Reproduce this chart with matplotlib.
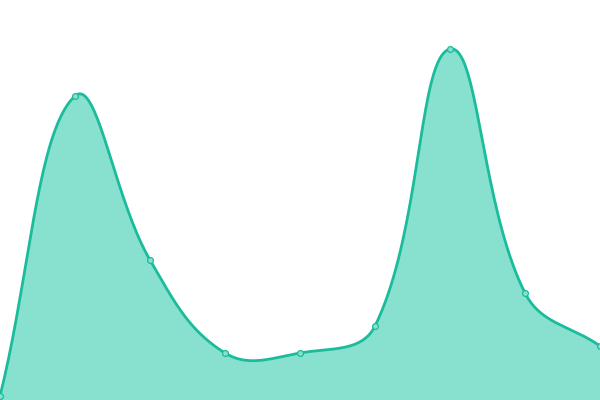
import matplotlib
matplotlib.use("Agg")
import matplotlib.pyplot as plt
import numpy as np

# Data
x_vals = [0, 75, 150, 225, 300, 375, 450, 525, 600]
y_vals = [4, 304, 140, 47, 47, 74, 351, 107, 54]

line_clr = "#1abc9c"
fill_clr = "#88e0cf"


def smooth_curve(xs, ys, smooth=0.4, n=40):
    # bezier smoothing, control points from neighbours
    pts = np.column_stack([xs, ys]).astype(float)
    cps = []
    for i, p in enumerate(pts):
        prev = pts[i - 1] if i > 0 else p
        nxt = pts[i + 1] if i < len(pts) - 1 else p
        v = nxt - prev
        d0 = np.hypot(*(p - prev))
        d1 = np.hypot(*(nxt - p))
        s = d0 + d1
        if s == 0:
            cps.append((p, p))
            continue
        cps.append((p - v * smooth * d0 / s, p + v * smooth * d1 / s))
    out = [pts[0]]
    t = np.linspace(0, 1, n)[1:, None]
    for i in range(len(pts) - 1):
        p0, p3 = pts[i], pts[i + 1]
        p1, p2 = cps[i][1], cps[i + 1][0]
        seg = ((1 - t) ** 3) * p0 + 3 * ((1 - t) ** 2) * t * p1 + 3 * (1 - t) * t ** 2 * p2 + t ** 3 * p3
        out.extend(seg)
    out = np.array(out)
    return out[:, 0], out[:, 1]


fig = plt.figure(figsize=(6, 4), dpi=100)
ax = fig.add_axes([0, 0, 1, 1])
cx, cy = smooth_curve(x_vals, y_vals)
ax.fill_between(cx, cy, 0, color=fill_clr, linewidth=0)
ax.plot(cx, cy, color=line_clr, linewidth=2)
ax.plot(x_vals, y_vals, "o", markersize=4.2, markerfacecolor=fill_clr,
        markeredgecolor=line_clr, markeredgewidth=0.9)
ax.set_xlim(0, 600)
ax.set_ylim(0, 400)
ax.axis("off")

fig.savefig("out.png", dpi=100)
